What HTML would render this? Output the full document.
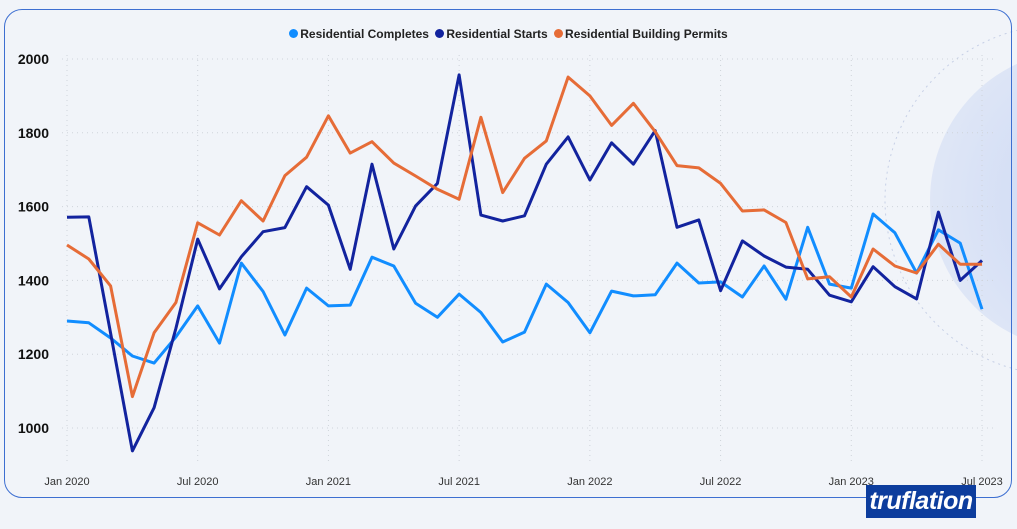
<!DOCTYPE html>
<html><head><meta charset="utf-8"><style>
html,body{margin:0;padding:0;background:#f1f4f9;width:1017px;height:529px;overflow:hidden;font-family:"Liberation Sans",sans-serif}
#frame{position:absolute;left:4px;top:9px;width:1008px;height:489px;border:1.5px solid #3d6fd1;border-radius:18px;box-sizing:border-box}
#logo{position:absolute;left:866px;top:485px;width:110px;height:33px;background:#0d3d9d;color:#fff;font-weight:bold;font-style:italic;font-size:25px;line-height:33px;text-align:center;letter-spacing:-0.5px}
</style></head><body>
<svg width="1017" height="529" style="position:absolute;left:0;top:0">
<defs><radialGradient id="g" cx="0.6" cy="0.5" r="0.6"><stop offset="0" stop-color="#c5d3f3"/><stop offset="1" stop-color="#dde5f6"/></radialGradient></defs>
<g>
<circle cx="1080" cy="200" r="150" fill="url(#g)" opacity="0.9"/>
<circle cx="1060" cy="200" r="175" fill="none" stroke="#c7d0e6" stroke-dasharray="2 4"/>
</g>
<g id="grid"></g><g id="axes"></g><g id="lines"></g>
</svg>
<div id="frame"></div>
<div id="legend" style="position:absolute;top:27px;left:0;width:1017px;text-align:center;font-size:12px;font-weight:bold;color:#222">
<span><span style="display:inline-block;width:9px;height:9px;border-radius:50%;background:#118dff;margin-right:2px"></span>Residential Completes</span>
<span style="margin-left:3px"><span style="display:inline-block;width:9px;height:9px;border-radius:50%;background:#12239e;margin-right:2px"></span>Residential Starts</span>
<span style="margin-left:3px"><span style="display:inline-block;width:9px;height:9px;border-radius:50%;background:#e66c37;margin-right:2px"></span>Residential Building Permits</span>
</div>
<div id="logo">truflation</div>
<script>
const completes=[1290,1285,1244,1195,1176,1247,1331,1230,1447,1370,1252,1379,1331,1333,1463,1439,1338,1300,1363,1313,1233,1260,1390,1340,1258,1371,1358,1361,1447,1393,1396,1355,1439,1349,1544,1390,1379,1580,1529,1420,1537,1501,1322];
const starts=[1571,1572,1257,938,1055,1270,1512,1377,1464,1532,1543,1654,1604,1430,1715,1485,1602,1663,1957,1577,1561,1575,1715,1789,1672,1773,1715,1806,1544,1564,1372,1507,1466,1436,1430,1360,1342,1437,1383,1350,1585,1400,1454];
const permits=[1496,1458,1385,1085,1258,1340,1556,1523,1616,1561,1684,1734,1846,1745,1776,1718,1683,1647,1620,1842,1638,1731,1778,1951,1900,1820,1880,1803,1711,1705,1663,1588,1591,1557,1404,1410,1355,1485,1439,1420,1498,1444,1444];
const yTicks=[1000,1200,1400,1600,1800,2000];
const xTickIdx=[0,6,12,18,24,30,36,42];
const xTickLabels=["Jan 2020","Jul 2020","Jan 2021","Jul 2021","Jan 2022","Jul 2022","Jan 2023","Jul 2023"];
const NS="http://www.w3.org/2000/svg";
const x=i=>67+i*(915/42);
const y=v=>59+(2000-v)*0.369;
const grid=document.getElementById('grid'),axes=document.getElementById('axes'),lines=document.getElementById('lines');
yTicks.forEach(t=>{
 const l=document.createElementNS(NS,'line');
 
 
 l.setAttribute('x1',62);l.setAttribute('x2',995);l.setAttribute('y1',y(t));l.setAttribute('y2',y(t));
 l.setAttribute('stroke','#cfd3da');l.setAttribute('stroke-dasharray','1 4');grid.appendChild(l);
 const tx=document.createElementNS(NS,'text');
 
 
 tx.setAttribute('x',49);tx.setAttribute('y',y(t)+5);tx.setAttribute('text-anchor','end');
 tx.setAttribute('font-size','14');tx.setAttribute('font-weight','bold');tx.setAttribute('fill','#111');
 tx.textContent=t;axes.appendChild(tx);
});
xTickIdx.forEach((i,k)=>{
 const l=document.createElementNS(NS,'line');
 
 
 l.setAttribute('x1',x(i));l.setAttribute('x2',x(i));l.setAttribute('y1',55);l.setAttribute('y2',465);
 l.setAttribute('stroke','#cfd3da');l.setAttribute('stroke-dasharray','1 4');grid.appendChild(l);
 const tx=document.createElementNS(NS,'text');
 
 
 tx.setAttribute('x',x(i));tx.setAttribute('y',485);tx.setAttribute('text-anchor','middle');
 tx.setAttribute('font-size','11');tx.setAttribute('fill','#333');
 tx.textContent=xTickLabels[k];axes.appendChild(tx);
});
function draw(arr,color,name){
 const p=document.createElementNS(NS,'polyline');
 
 
 p.setAttribute('points',arr.map((v,i)=>x(i).toFixed(1)+','+y(v).toFixed(1)).join(' '));
 p.setAttribute('fill','none');p.setAttribute('stroke',color);p.setAttribute('stroke-width','3');
 p.setAttribute('stroke-linejoin','round');lines.appendChild(p);
}
draw(completes,'#118dff','completes-line');
draw(starts,'#12239e','starts-line');
draw(permits,'#e66c37','permits-line');
</script>
</body></html>
